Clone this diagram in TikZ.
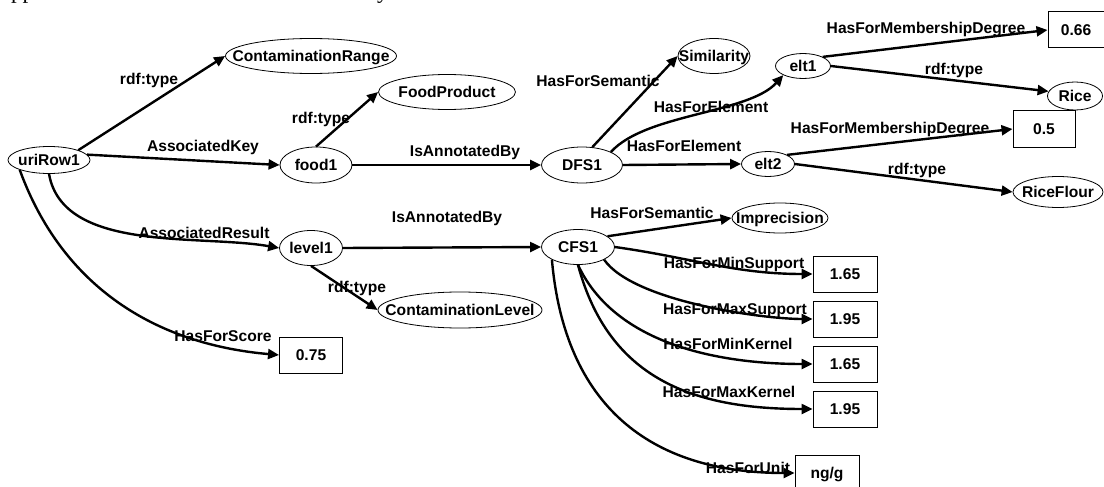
\documentclass[tikz,border=0pt]{standalone}
\usepackage{fontspec}
\setmainfont{Liberation Sans}
\newfontfamily\seriffont{Liberation Serif}
\usetikzlibrary{shapes.geometric,arrows.meta}
% centre a label without letting it widen the ellipse around it
\newcommand\zw[1]{\makebox[0pt]{#1}}
\begin{document}
\begin{tikzpicture}[x=1pt,y=1pt,
  every node/.style={font=\fontsize{15.6}{18}\selectfont\bfseries},
  ent/.style={ellipse, draw, line width=0.8pt, inner sep=0pt, text height=11.2pt, text depth=0pt},
  lit/.style={rectangle, draw, line width=1pt, inner sep=0pt, minimum width=64, minimum height=36, text height=11.2pt, text depth=0pt},
  lab/.style={inner sep=0pt, text height=11.2pt, text depth=0pt},
  rel/.style={line width=2.4pt, -{Triangle[length=11pt,width=10pt]}},
]
\useasboundingbox (0,0) rectangle (1104,-487);
\clip (0,0) rectangle (1104,-487);

% tail of the preceding text line
\node[font=\seriffont\fontsize{23}{23}\selectfont, inner sep=0pt, anchor=base west] (prevA) at (11,1) {pp};
\node[font=\seriffont\fontsize{23}{23}\selectfont, inner sep=0pt, anchor=base west] (prevB) at (377,1) {y};

% resources
\node[ent, minimum width=82, minimum height=27] (uri) at (49,-160) {\zw{uriRow1}};
\node[ent, minimum width=171, minimum height=35] (crange) at (311,-56) {\zw{ContaminationRange}};
\node[ent, minimum width=72, minimum height=36] (food) at (316,-165) {\zw{food1}};
\node[ent, minimum width=137, minimum height=35] (fprod) at (447,-92) {\zw{FoodProduct}};
\node[ent, minimum width=81, minimum height=36] (dfs) at (582,-165) {\zw{DFS1}};
\node[ent, minimum width=72, minimum height=35] (sim) at (714,-56) {\zw{Similarity}};
\node[ent, minimum width=55, minimum height=25] (elta) at (803,-66) {\zw{elt1}};
\node[ent, minimum width=53, minimum height=25] (eltb) at (768,-164) {\zw{elt2}};
\node[ent, minimum width=55, minimum height=28] (rice) at (1075,-96) {\zw{Rice}};
\node[ent, minimum width=90, minimum height=31] (flour) at (1058,-192) {\zw{RiceFlour}};
\node[ent, minimum width=63, minimum height=35] (level) at (311,-248) {\zw{level1}};
\node[ent, minimum width=73, minimum height=35] (cfs) at (578,-247) {\zw{CFS1}};
\node[ent, minimum width=96, minimum height=30] (impr) at (780,-218) {\zw{Imprecision}};
\node[ent, minimum width=164, minimum height=36] (clevel) at (460,-310) {\zw{ContaminationLevel}};

% literals
\node[lit, minimum width=56] (mda) at (1076,-30) {0.66};
\node[lit, minimum width=62] (mdb) at (1044,-129) {0.5};
\node[lit, minimum width=63] (score) at (311,-355) {0.75};
\node[lit] (minsup) at (845,-274) {1.65};
\node[lit] (maxsup) at (845,-319) {1.95};
\node[lit] (minker) at (845,-364) {1.65};
\node[lit] (maxker) at (845,-409) {1.95};
\node[lit] (unit) at (827,-473) {ng/g};

% properties
\draw[rel] (uri.north east) -- (crange.west);
\draw[rel] (uri.8) -- (food.west);
\draw[rel] (uri.south) to[out=-80,in=170,looseness=0.85] (level.west);
\draw[rel] (uri.south west) to[out=-70,in=175] (score.west);
\draw[rel] (food.north) -- (fprod.west);
\draw[rel] (food.east) -- (dfs.west);
\draw[rel] (level.east) -- (cfs.west);
\draw[rel] (level.south) -- (clevel.west);
\draw[rel] (dfs.60) -- (sim.west);
\draw[rel] (dfs.north east) to[out=48,in=228,looseness=0.7] (elta.south west);
\draw[rel] (dfs.east) -- (eltb.west);
\draw[rel] (elta.north east) -- (mda.west);
\draw[rel] (elta.east) -- (rice.170);
\draw[rel] (eltb.north east) -- (mdb.west);
\draw[rel] (eltb.east) -- (flour.west);
\draw[rel] (cfs.20) -- (impr.west);
\draw[rel] (cfs.east) to[out=-8,in=180] (minsup.west);
\draw[rel] (cfs.south east) to[out=-55,in=180,looseness=0.6] (maxsup.west);
\draw[rel] (cfs.south) to[out=-65,in=180,looseness=0.9] (minker.west);
\draw[rel] (cfs.south) to[out=-75,in=180,looseness=1.1] (maxker.west);
\draw[rel] (cfs.south west) to[out=-85,in=180,looseness=1.15] (unit.west);

% property names
\node[lab] (l1) at (149,-79) {rdf:type};
\node[lab] (l2) at (203,-146) {AssociatedKey};
\node[lab] (l3) at (321,-118) {rdf:type};
\node[lab] (l4) at (465,-151) {IsAnnotatedBy};
\node[lab] (l5) at (598,-81) {HasForSemantic};
\node[lab] (l6) at (711,-107) {HasForElement};
\node[lab] (l7) at (684,-146) {HasForElement};
\node[lab] (l8) at (926,-28) {HasForMembershipDegree};
\node[lab] (l9) at (954,-69) {rdf:type};
\node[lab] (l10) at (890,-128) {HasForMembershipDegree};
\node[lab] (l11) at (917,-169) {rdf:type};
\node[lab] (l12) at (204,-233) {AssociatedResult};
\node[lab] (l13) at (447,-217) {IsAnnotatedBy};
\node[lab] (l14) at (652,-213) {HasForSemantic};
\node[lab] (l15) at (357,-287) {rdf:type};
\node[lab] (l16) at (223,-336) {HasForScore};
\node[lab] (l17) at (734,-263) {HasForMinSupport};
\node[lab] (l18) at (735,-309) {HasForMaxSupport};
\node[lab] (l19) at (728,-344) {HasForMinKernel};
\node[lab] (l20) at (729,-392) {HasForMaxKernel};
\node[lab] (l21) at (748,-468) {HasForUnit};
\end{tikzpicture}
\end{document}
